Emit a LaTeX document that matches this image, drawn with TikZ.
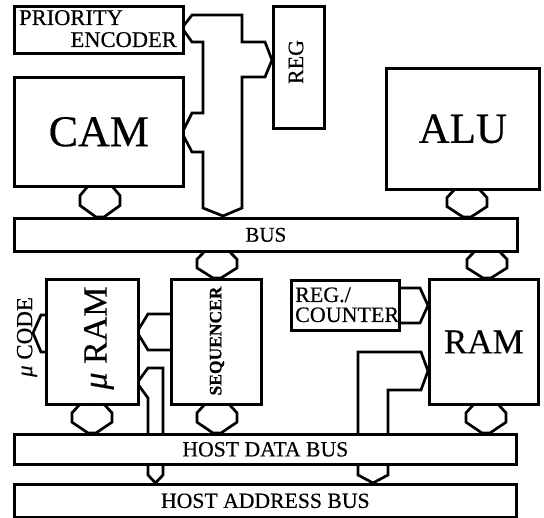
\documentclass[tikz,border=0pt]{standalone}
\usepackage{fontspec}
\setmainfont{Liberation Serif}[FakeBold=0.4]
\tikzset{
  box/.style={draw, line width=2.7pt, fill=white, inner sep=0pt, anchor=north west},
  conn/.style={draw, line width=2.7pt, fill=white, line join=miter},
  lbl/.style={inner sep=0pt},
}
\newcommand\fs[1]{\fontsize{#1}{#1}\selectfont}
\newcommand\hexcon[3]{%
  \draw[conn] ({#1-11},#2) -- ({#1+11},#2) -- ({#1+20},{#2+0.33*(#3-#2)}) -- ({#1+20},{#2+0.64*(#3-#2)})
   -- ({#1+4},#3) -- ({#1-4},#3) -- ({#1-20},{#2+0.64*(#3-#2)}) -- ({#1-20},{#2+0.33*(#3-#2)}) -- cycle;}
\begin{document}
\begin{tikzpicture}[x=1pt,y=-1pt]
\useasboundingbox (0,0) rectangle (544,518);

% ---- connectors (drawn first, boxes on top) ----
% tree connector: PRIORITY ENCODER / CAM / REG <-> BUS
\draw[conn] (223,216) -- (203,208) -- (203,152) -- (192,152) -- (182,133) -- (192,113) -- (203,113)
  -- (203,42) -- (192,42) -- (182,28) -- (192,15) -- (242,15) -- (242,42) -- (265,42) -- (272,60)
  -- (265,77) -- (242,77) -- (242,208) -- cycle;

% hexagonal bus links
\hexcon{100}{185}{217}
\hexcon{467}{188}{217}
\hexcon{217}{250}{278}
\hexcon{487}{250}{278}
\hexcon{92}{403}{433}
\hexcon{217}{403}{433}
\hexcon{486}{403}{433}

% micro code port
\draw[conn] (45,315) -- (41,315) -- (33,333) -- (41,352) -- (45,352);
% SEQUENCER -> uRAM
\draw[conn] (170,314) -- (148,314) -- (137,332) -- (148,350) -- (170,350);
% uRAM <-> host data / address bus
\draw[conn] (137,383) -- (148,368) -- (163,368) -- (163,475) -- (155.5,483) -- (148,475) -- (148,398) -- cycle;
% REG./COUNTER -> RAM
\draw[conn] (398,288) -- (420,288) -- (428,305.5) -- (420,323) -- (398,323);
% RAM <-> host data / address bus
\draw[conn] (428,371) -- (421,352) -- (358,352) -- (358,475) -- (373,483) -- (388,475) -- (388,390) -- (421,390) -- cycle;

% ---- boxes ----
\node[box, minimum width=169pt, minimum height=47pt] (pe) at (13,5) {};
\node[box, minimum width=51pt, minimum height=122pt] (reg) at (272,5) {};
\node[box, minimum width=169pt, minimum height=109pt, font=\fs{44}] (cam) at (13,76) {CAM};
\node[box, minimum width=153pt, minimum height=121pt, font=\fs{43}] (alu) at (385,67) {ALU};
\node[box, minimum width=503pt, minimum height=33pt, font=\fs{21}] (bus) at (13,217) {BUS};
\node[box, minimum width=92pt, minimum height=125pt] (uram) at (45,278) {};
\node[box, minimum width=90pt, minimum height=125pt] (seq) at (170,278) {};
\node[box, minimum width=108pt, minimum height=50pt] (rc) at (290,279) {};
\node[box, minimum width=109pt, minimum height=125pt, font=\fs{35}] (ram) at (428,278) {RAM};
\node[box, minimum width=502pt, minimum height=30pt, font=\fs{21.7}] (hdb) at (13,433) {HOST DATA BUS};
\node[box, minimum width=502pt, minimum height=33pt, font=\fs{21.7}] (hab) at (13,483) {HOST ADDRESS BUS};

% ---- texts ----
\node[lbl, anchor=base west, font=\fs{22.5}] (pe1) at (19,25) {PRIORITY};
\node[lbl, anchor=base east, font=\fs{22.5}] (pe2) at (177,47) {ENCODER};
\node[lbl, rotate=90, font=\fs{22}] (regt) at (296,62) {REG};
\node[lbl, rotate=90, font=\fs{34}] (uramt) at (99,338) {{\itshape μ} RAM};
\node[lbl, rotate=90, font=\fs{23}] (ucode) at (27,337) {{\itshape μ} CODE};
\node[lbl, rotate=90, font=\fs{17.5}\bfseries] (seqt) at (217,341) {SEQUENCER};
\node[lbl, anchor=base west, font=\fs{22}] (rc1) at (295,302) {REG./};
\node[lbl, anchor=base west, font=\fs{22}] (rc2) at (295,322) {COUNTER};
\end{tikzpicture}
\end{document}
